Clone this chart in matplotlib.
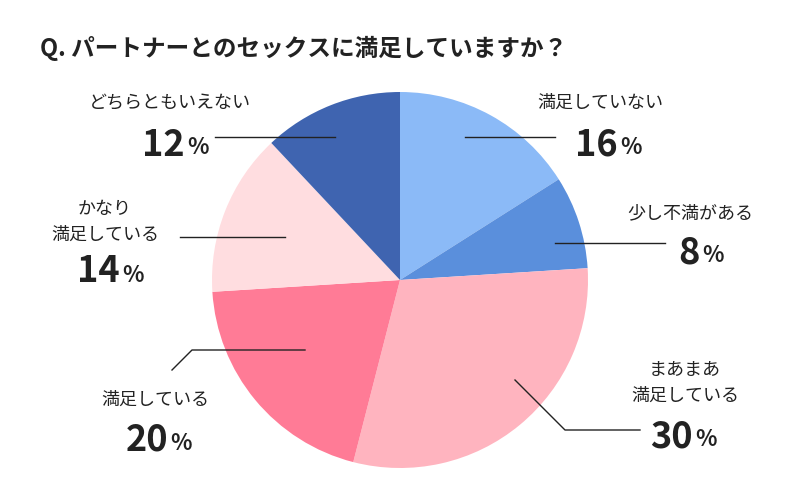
import matplotlib
matplotlib.use("Agg")
import matplotlib.pyplot as plt

labels = ["満足していない", "少し不満がある", "まあまあ\n満足している", "満足している", "かなり\n満足している", "どちらともいえない"]
values = [16, 8, 30, 20, 14, 12]
colors = ["#8bbaf7", "#5a8fdc", "#ffb4bf", "#ff7b96", "#ffdde0", "#3f64b0"]

plt.rcParams["font.family"] = "Noto Sans CJK JP"
W, H = 800, 500
fig = plt.figure(figsize=(8, 5), dpi=100)
fig.patch.set_facecolor("white")
R = 188
cx, cy = 400, 280
ax = fig.add_axes([(cx - R) / W, (H - cy - R) / H, 2 * R / W, 2 * R / H])
ax.pie(values, colors=colors, startangle=90, counterclock=False, radius=1,
       wedgeprops=dict(linewidth=0))
ax.set_xlim(-1, 1); ax.set_ylim(-1, 1); ax.set_aspect("equal"); ax.axis("off")

def fx(x): return x / W
def fy(y): return 1 - y / H

fig.text(fx(40), fy(48), "Q. パートナーとのセックスに満足していますか？", fontsize=17,
         fontweight="bold", va="center", ha="left", color="#222")

# label text center, number right edge, leader line points
specs = [
    ((600, 103), (618, 145), [(465, 137), (555, 137)]),
    ((690, 213), (700, 253), [(555, 243), (665, 243)]),
    ((685, 383), (693, 437), [(515, 380), (565, 430), (640, 430)]),
    ((155, 400), (168, 440), [(305, 350), (192, 350), (172, 370)]),
    ((105, 222), (120, 272), [(180, 237), (285, 237)]),
    ((170, 103), (185, 145), [(215, 137), (335, 137)]),
]
for lab, v, (tpos, npos, line) in zip(labels, values, specs):
    fig.text(fx(tpos[0]), fy(tpos[1]), lab, fontsize=13, ha="center", va="center",
             color="#222", linespacing=1.6)
    fig.text(fx(npos[0]), fy(npos[1]), str(v), fontsize=26, fontweight="bold",
             ha="right", va="center", color="#222")
    fig.text(fx(npos[0] + 2), fy(npos[1] + 3), "%", fontsize=16, fontweight="bold",
             ha="left", va="center", color="#222")
    xs = [fx(p[0]) for p in line]; ys = [fy(p[1]) for p in line]
    fig.add_artist(plt.Line2D(xs, ys, transform=fig.transFigure, color="#222", lw=1))

fig.savefig("out.png", dpi=100)
